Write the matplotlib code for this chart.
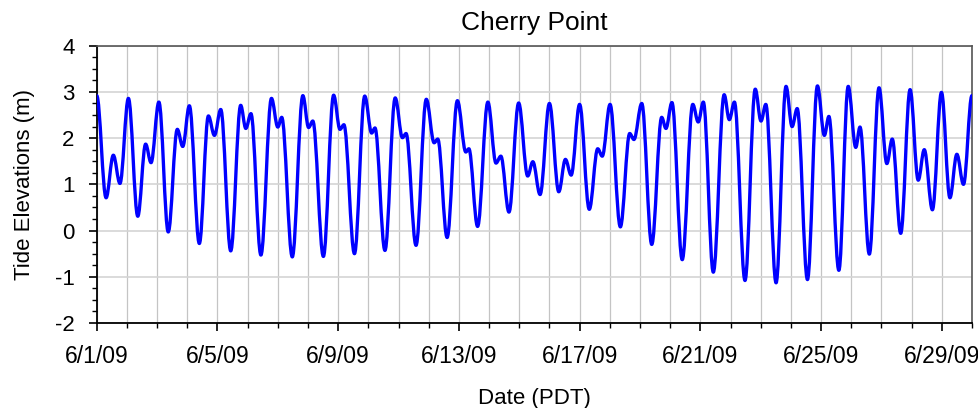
import datetime as dt

import matplotlib
matplotlib.use("Agg")
import matplotlib.pyplot as plt
import matplotlib.dates as mdates
from matplotlib.path import Path
from matplotlib.patches import PathPatch
from matplotlib.ticker import MultipleLocator, FuncFormatter

# high / low tide events: days after 6/1/09 00:00 and height (m)
event_days = [
    0.00, 0.31, 0.55, 0.77, 1.05, 1.36, 1.62, 1.80, 2.06, 2.37,
    2.67, 2.85, 3.07, 3.40, 3.70, 3.90, 4.11, 4.44, 4.77, 4.94,
    5.11, 5.44, 5.79, 6.00, 6.13, 6.48, 6.83, 7.02, 7.16, 7.51,
    7.85, 8.06, 8.19, 8.54, 8.88, 9.11, 9.22, 9.55, 9.89, 10.13,
    10.25, 10.58, 10.92, 11.18, 11.30, 11.61, 11.95, 12.23, 12.33, 12.62,
    12.96, 13.23, 13.39, 13.66, 13.98, 14.28, 14.45, 14.69, 15.00, 15.31,
    15.53, 15.72, 16.00, 16.32, 16.60, 16.75, 17.01, 17.35, 17.66, 17.80,
    18.06, 18.39, 18.72, 18.86, 19.06, 19.40, 19.75, 19.93, 20.10, 20.43,
    20.79, 20.96, 21.13, 21.48, 21.82, 22.01, 22.17, 22.51, 22.84, 23.04,
    23.21, 23.55, 23.88, 24.11, 24.26, 24.59, 24.90, 25.15, 25.29, 25.60,
    25.92, 26.18, 26.36, 26.64, 26.95, 27.22, 27.42, 27.69, 27.99, 28.27,
    28.50, 28.72, 29.00,
]
event_heights = [
    2.92, 0.71, 1.63, 1.02, 2.86, 0.31, 1.87, 1.47, 2.78, -0.03,
    2.19, 1.82, 2.70, -0.28, 2.48, 2.06, 2.62, -0.44, 2.71, 2.21,
    2.53, -0.53, 2.86, 2.24, 2.45, -0.57, 2.92, 2.23, 2.37, -0.56,
    2.93, 2.19, 2.29, -0.50, 2.91, 2.11, 2.22, -0.43, 2.87, 2.01,
    2.10, -0.32, 2.84, 1.90, 1.98, -0.15, 2.81, 1.70, 1.77, 0.09,
    2.78, 1.46, 1.61, 0.40, 2.76, 1.18, 1.49, 0.78, 2.75, 0.84,
    1.54, 1.20, 2.73, 0.46, 1.77, 1.61, 2.73, 0.08, 2.10, 1.97,
    2.75, -0.30, 2.45, 2.21, 2.77, -0.63, 2.73, 2.35, 2.78, -0.90,
    2.94, 2.40, 2.78, -1.08, 3.06, 2.37, 2.73, -1.13, 3.12, 2.25,
    2.64, -1.06, 3.13, 2.06, 2.47, -0.86, 3.12, 1.80, 2.24, -0.51,
    3.09, 1.45, 1.98, -0.06, 3.05, 1.09, 1.75, 0.45, 2.99, 0.71,
    1.65, 1.00, 2.92,
]

start = dt.datetime(2009, 6, 1)
end = dt.datetime(2009, 6, 30)

plt.rcParams['font.family'] = ['Liberation Sans', 'DejaVu Sans']
plt.rcParams['axes.unicode_minus'] = False

fig = plt.figure(figsize=(9.79, 4.08), dpi=100)
ax = fig.add_axes([0.0988, 0.2083, 0.8940, 0.6797])

# smooth tide curve: cubic segments between turning points, flat at each high/low
x = [mdates.date2num(start + dt.timedelta(days=d)) for d in event_days]
verts = [(x[0], event_heights[0])]
codes = [Path.MOVETO]
k = 0.3634
for i in range(len(x) - 1):
    span = x[i + 1] - x[i]
    verts += [(x[i] + k * span, event_heights[i]),
              (x[i + 1] - k * span, event_heights[i + 1]),
              (x[i + 1], event_heights[i + 1])]
    codes += [Path.CURVE4] * 3
ax.add_patch(PathPatch(Path(verts, codes), fill=False, edgecolor='#0000ff',
                       linewidth=2.4, capstyle='round', joinstyle='round',
                       zorder=3))

ax.set_xlim(mdates.date2num(start), mdates.date2num(end))
ax.set_ylim(-2, 4)

ax.xaxis.set_major_locator(mdates.DayLocator(bymonthday=range(1, 32, 4)))
ax.xaxis.set_minor_locator(mdates.DayLocator())
ax.xaxis.set_major_formatter(FuncFormatter(
    lambda v, p: "%d/%d/%s" % (mdates.num2date(v).month, mdates.num2date(v).day,
                               mdates.num2date(v).strftime('%y'))))
ax.yaxis.set_major_locator(MultipleLocator(1))
ax.yaxis.set_minor_locator(MultipleLocator(0.25))

ax.grid(True, which='major', axis='y', color='#d4d4d4', linewidth=1.2)
ax.grid(True, which='minor', axis='x', color='#c4c4c4', linewidth=0.9)
ax.grid(True, which='major', axis='x', color='#c4c4c4', linewidth=0.9)
ax.set_axisbelow(True)

ax.tick_params(axis='both', which='major', direction='out', length=6, width=1.2,
               color='black')
ax.tick_params(axis='both', which='minor', direction='out', length=3.5, width=1,
               color='black')
ax.tick_params(axis='x', which='major', pad=10, labelsize=16.5)
ax.tick_params(axis='y', which='major', pad=10, labelsize=16)

for side in ['left', 'bottom']:
    ax.spines[side].set_color('black')
    ax.spines[side].set_linewidth(1.3)
for side in ['top', 'right']:
    ax.spines[side].set_color('#555555')
    ax.spines[side].set_linewidth(1.2)

ax.set_title('Cherry Point', fontsize=19, pad=11)
ax.set_xlabel('Date (PDT)', fontsize=16)
ax.set_ylabel('Tide Elevations (m)', fontsize=16)
ax.xaxis.set_label_coords(0.5, -0.233)
ax.yaxis.set_label_coords(-0.070, 0.5)

fig.savefig('out.png', dpi=100)
